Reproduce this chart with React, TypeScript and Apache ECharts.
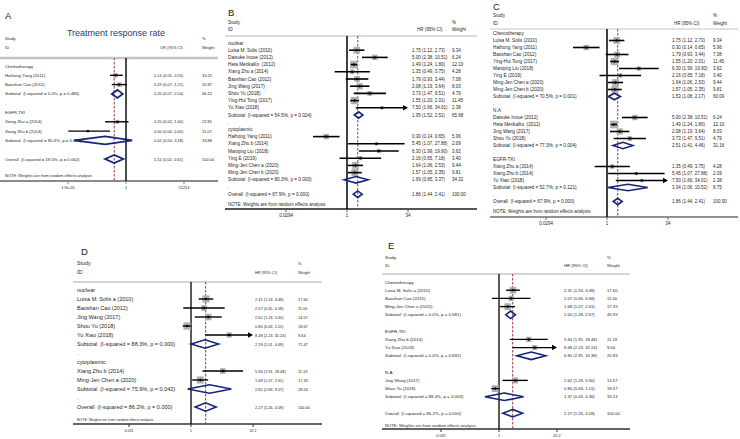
import React, { useEffect, useRef } from "react";
import * as echarts from "echarts";

const FONT = "'Liberation Sans', Arial, Helvetica, sans-serif";
const TEXT = "#262626";
const NAVY = "#16247a";
const BOX = "#b0b0b0";
const REF_RED = "#a8323a";

// ---------------- Panel A : Treatment response rate (OR) ----------------
const aLabels = [
  "Chemotherapy",
  "Haihong Yang (2011)",
  "Baoshan Cao (2012)",
  "Subtotal  (I-squared = 0.0%, p = 0.486)",
  ".",
  "EGFR-TKI",
  "Xiang Zhu a (2014)",
  "Xiang Zhu b (2014)",
  "Subtotal  (I-squared = 80.4%, p = 0.024)",
  ".",
  "Overall  (I-squared = 59.0%, p = 0.062)",
];
const aKinds = ["group", "study", "study", "subtotal", "blank", "group", "study", "study", "subtotal", "blank", "overall"];
const aOR = [null, 0.14, 0.29, 0.2, null, null, 0.2, 0.0008, 0.02, null, 0.11];
const aLow = [null, 0.05, 0.07, 0.07, null, null, 0.02, 0.00002, 0.00006, null, 0.02];
const aHigh = [null, 0.55, 1.21, 0.54, null, null, 1.6, 0.05, 3.18, null, 0.61];
const aWeight = [null, 33.25, 32.87, 66.12, null, null, 22.81, 11.07, 33.88, null, 100.0];
const aTickValues = [1 / 52214, 1, 52214];
const aTickLabels = ["1.9e-05", "1", "52214"];

// ---------------- Panel B : nuclear / cytoplasmic (HR) ----------------
const bLabels = [
  "nuclear",
  "Luisa M. Solis (2010)",
  "Daisuke Inoue (2012)",
  "Heta Merikallio  (2012)",
  "Xiang Zhu a (2014)",
  "Baoshan Cao (2012)",
  "Jing Wang (2017)",
  "Shou Yu (2018)",
  "Ying-Hui Tong (2017)",
  "Yu Xiao (2018)",
  "Subtotal  (I-squared = 54.5%, p = 0.024)",
  ".",
  "cytoplasmic",
  "Haihong Yang (2011)",
  "Xiang Zhu b (2014)",
  "Manqing Liu (2018)",
  "Ying E (2019)",
  "Ming-Jen Chen a (2020)",
  "Ming-Jen Chen b (2020)",
  "Subtotal  (I-squared = 80.3%, p = 0.000)",
  ".",
  "Overall  (I-squared = 67.9%, p = 0.000)",
];
const bKinds = [
  "group", "study", "study", "study", "study", "study", "study", "study", "study", "study", "subtotal", "blank",
  "group", "study", "study", "study", "study", "study", "study", "subtotal", "blank", "overall",
];
const bHR = [null, 1.75, 5.0, 1.49, 1.35, 1.79, 2.08, 3.73, 1.55, 7.5, 1.95, null, null, 0.3, 5.45, 6.3, 2.16, 1.64, 1.57, 1.69, null, 1.86];
const bLow = [null, 1.12, 2.38, 1.24, 0.49, 0.93, 1.19, 1.47, 1.2, 1.66, 1.52, null, null, 0.14, 1.07, 1.99, 0.65, 1.06, 1.05, 0.85, null, 1.44];
const bHigh = [null, 2.73, 10.51, 1.8, 3.75, 3.44, 3.64, 9.51, 2.01, 34.01, 2.51, null, null, 0.65, 27.88, 19.9, 7.18, 2.53, 2.35, 3.37, null, 2.41];
const bWeight = [null, 9.34, 6.24, 12.1, 4.28, 7.08, 8.03, 4.79, 11.45, 2.38, 65.68, null, null, 5.96, 2.09, 3.62, 3.4, 9.44, 9.81, 34.32, null, 100.0];
const bTickValues = [0.0294, 1, 34];
const bTickLabels = ["0.0294", "1", "34"];

// ---------------- Panel C : Chemotherapy / N.A / EGFR-TKI (HR) ----------------
const cLabels = [
  "Chemotherapy",
  "Luisa M. Solis (2010)",
  "Haihong Yang (2011)",
  "Baoshan Cao (2012)",
  "Ying-Hui Tong (2017)",
  "Manqing Liu (2018)",
  "Ying E (2019)",
  "Ming-Jen Chen a (2020)",
  "Ming-Jen Chen b (2020)",
  "Subtotal  (I-squared = 70.5%, p = 0.001)",
  ".",
  "N.A",
  "Daisuke Inoue (2012)",
  "Heta Merikallio  (2012)",
  "Jing Wang (2017)",
  "Shou Yu (2018)",
  "Subtotal  (I-squared = 77.3%, p = 0.004)",
  ".",
  "EGFR-TKI",
  "Xiang Zhu a (2014)",
  "Xiang Zhu b (2014)",
  "Yu Xiao (2018)",
  "Subtotal  (I-squared = 52.7%, p = 0.121)",
  ".",
  "Overall  (I-squared = 67.9%, p = 0.000)",
];
const cKinds = [
  "group", "study", "study", "study", "study", "study", "study", "study", "study", "subtotal", "blank",
  "group", "study", "study", "study", "study", "subtotal", "blank",
  "group", "study", "study", "study", "subtotal", "blank", "overall",
];
const cHR = [null, 1.75, 0.3, 1.79, 1.55, 6.3, 2.16, 1.64, 1.57, 1.53, null, null, 5.0, 1.49, 2.08, 3.73, 2.51, null, null, 1.35, 5.45, 7.5, 3.34, null, 1.86];
const cLow = [null, 1.12, 0.14, 0.93, 1.2, 1.99, 0.65, 1.06, 1.05, 1.08, null, null, 2.38, 1.24, 1.19, 1.47, 1.41, null, null, 0.49, 1.07, 1.66, 1.06, null, 1.44];
const cHigh = [null, 2.73, 0.65, 3.44, 2.01, 19.9, 7.18, 2.53, 2.35, 2.17, null, null, 10.51, 1.8, 3.64, 9.51, 4.46, null, null, 3.75, 27.88, 34.01, 10.52, null, 2.41];
const cWeight = [null, 9.34, 5.96, 7.08, 11.45, 3.62, 3.4, 9.44, 9.81, 60.09, null, null, 6.24, 12.1, 8.03, 4.79, 31.16, null, null, 4.28, 2.09, 2.38, 8.75, null, 100.0];
const cTickValues = [0.0294, 1, 34];
const cTickLabels = ["0.0294", "1", "34"];

// ---------------- Panel D : nuclear / cytoplasmic (HR) ----------------
const dLabels = [
  "nuclear",
  "Luisa M. Solis a (2010)",
  "Baoshan Cao (2012)",
  "Jing Wang (2017)",
  "Shou Yu (2018)",
  "Yu Xiao (2018)",
  "Subtotal  (I-squared = 88.3%, p = 0.000)",
  ".",
  "cytoplasmic",
  "Xiang Zhu b (2014)",
  "Ming-Jen Chen a (2020)",
  "Subtotal  (I-squared = 75.9%, p = 0.042)",
  ".",
  "Overall  (I-squared = 86.2%, p = 0.000)",
];
const dKinds = ["group", "study", "study", "study", "study", "study", "subtotal", "blank", "group", "study", "study", "subtotal", "blank", "overall"];
const dHR = [null, 2.31, 2.07, 2.62, 0.8, 8.48, 2.19, null, null, 5.94, 1.68, 2.82, null, 2.27];
const dLow = [null, 1.53, 0.65, 1.23, 0.63, 2.23, 1.01, null, null, 1.91, 1.07, 0.83, null, 1.26];
const dHigh = [null, 3.48, 6.58, 5.6, 1.01, 32.24, 4.69, null, null, 18.48, 2.61, 9.57, null, 4.09];
const dWeight = [null, 17.6, 11.0, 14.57, 18.67, 9.64, 71.47, null, null, 11.19, 17.33, 28.53, null, 100.0];
const dTickValues = [0.031, 1, 32.2];
const dTickLabels = ["0.031", "1", "32.2"];

// ---------------- Panel E : Chemotherapy / EGFR-TKI / N.A (HR) ----------------
const eLabels = [
  "Chemotherapy",
  "Luisa M. Solis a (2010)",
  "Baoshan Cao (2012)",
  "Ming-Jen Chen a (2020)",
  "Subtotal  (I-squared = 0.0%, p = 0.581)",
  ".",
  "EGFR-TKI",
  "Xiang Zhu b (2014)",
  "Yu Xiao (2018)",
  "Subtotal  (I-squared = 0.0%, p = 0.692)",
  ".",
  "N.A",
  "Jing Wang (2017)",
  "Shou Yu (2018)",
  "Subtotal  (I-squared = 88.4%, p = 0.003)",
  ".",
  "Overall  (I-squared = 86.2%, p = 0.000)",
];
const eKinds = [
  "group", "study", "study", "study", "subtotal", "blank",
  "group", "study", "study", "subtotal", "blank",
  "group", "study", "study", "subtotal", "blank", "overall",
];
const eHR = [null, 2.31, 2.07, 1.68, 2.0, null, null, 5.94, 8.48, 6.9, null, null, 2.62, 0.8, 1.37, null, 2.27];
const eLow = [null, 1.53, 0.65, 1.07, 1.49, null, null, 1.91, 2.23, 2.91, null, null, 1.23, 0.63, 0.43, null, 1.26];
const eHigh = [null, 3.48, 6.58, 2.61, 2.67, null, null, 18.48, 32.24, 16.38, null, null, 5.6, 1.01, 4.36, null, 4.09];
const eWeight = [null, 17.6, 11.0, 17.33, 45.93, null, null, 11.19, 9.64, 20.83, null, null, 14.57, 18.67, 33.24, null, 100.0];
const eTickValues = [0.031, 1, 32.2];
const eTickLabels = ["0.031", "1", "32.2"];

const NOTE = "NOTE: Weights are from random effects analysis";

type PanelData = {
  labels: string[];
  kinds: string[];
  est: (number | null)[];
  low: (number | null)[];
  high: (number | null)[];
  weight: (number | null)[];
  ticks: number[];
  tickLabels: string[];
  effHead: string;
};

const panels: PanelData[] = [
  { labels: aLabels, kinds: aKinds, est: aOR, low: aLow, high: aHigh, weight: aWeight, ticks: aTickValues, tickLabels: aTickLabels, effHead: "OR (95% CI)" },
  { labels: bLabels, kinds: bKinds, est: bHR, low: bLow, high: bHigh, weight: bWeight, ticks: bTickValues, tickLabels: bTickLabels, effHead: "HR (95% CI)" },
  { labels: cLabels, kinds: cKinds, est: cHR, low: cLow, high: cHigh, weight: cWeight, ticks: cTickValues, tickLabels: cTickLabels, effHead: "HR (95% CI)" },
  { labels: dLabels, kinds: dKinds, est: dHR, low: dLow, high: dHigh, weight: dWeight, ticks: dTickValues, tickLabels: dTickLabels, effHead: "HR (95% CI)" },
  { labels: eLabels, kinds: eKinds, est: eHR, low: eLow, high: eHigh, weight: eWeight, ticks: eTickValues, tickLabels: eTickLabels, effHead: "HR (95% CI)" },
];

// layout (pixels / styles only)
const layouts: any[] = [
  {
    letter: "A", letterX: 5, letterY: 15, title: "Treatment response rate", titleX: 116, titleY: 33,
    labelX: 5, effX: 154, effHeadX: 160, wX: 202,
    studyY: 38, idY: 47, lineY: 58, lineX1: 0, lineX2: 218, lineColor: "#c4c4c4", lineW: 2.5,
    row0: 66, pitch: 9.3, noteY: 175, axisY: 181, axisColor: "#8a8a8a", axisW: 2, tickLabelY: 187,
    xLeft: 68, xRight: 184, nameFont: 4.3, numFont: 4, headFont: 4.2, numHeadFont: 4, noteFont: 4, tickFont: 4,
    boxK: 0.8, diamondH: 8, ciW: 1.4, pointR: 1.4, diaW: 1.8, arrow: 4, nullW: 1.4,
  },
  {
    letter: "B", letterX: 228, letterY: 12,
    labelX: 228, effX: 412, effHeadX: 417, wX: 452,
    studyY: 22, idY: 29, lineY: 36, lineX1: 225, lineX2: 477, lineColor: "#b8b8b8", lineW: 1,
    row0: 43, pitch: 7.2, noteY: 204, axisY: 209, axisColor: "#555555", axisW: 1.8, tickLabelY: 215,
    xLeft: 286, xRight: 408, nameFont: 4.7, numFont: 4.5, headFont: 4.7, numHeadFont: 4.5, noteFont: 4.5, tickFont: 4.5,
    boxK: 2.2, diamondH: 6.5, ciW: 1.6, pointR: 1.5, diaW: 1.6, arrow: 5, nullW: 1.5,
  },
  {
    letter: "C", letterX: 493, letterY: 6,
    labelX: 493, effX: 672, effHeadX: 674, wX: 713,
    studyY: 15, idY: 23, lineY: 29, lineX1: 490, lineX2: 738, lineColor: "#c4c4c4", lineW: 1,
    row0: 33.5, pitch: 7.0, noteY: 211, axisY: 217, axisColor: "#6e6e6e", axisW: 1.6, tickLabelY: 223,
    xLeft: 546, xRight: 668, nameFont: 4.7, numFont: 4.5, headFont: 4.7, numHeadFont: 4.5, noteFont: 4.5, tickFont: 4.5,
    boxK: 2.2, diamondH: 6.5, ciW: 1.6, pointR: 1.5, diaW: 1.6, arrow: 5, nullW: 1.5,
  },
  {
    letter: "D", letterX: 81, letterY: 251,
    labelX: 77, effX: 255, effHeadX: 255, wX: 298,
    studyY: 263, idY: 272, lineY: 282, lineX1: 73, lineX2: 322, lineColor: "#a8a8a8", lineW: 1,
    row0: 290, pitch: 9.0, noteY: 420, axisY: 424, axisColor: "#333333", axisW: 1.4, tickLabelY: 431,
    xLeft: 129, xRight: 253, nameFont: 5.5, numFont: 3.9, headFont: 5.3, numHeadFont: 3.9, noteFont: 3.5, tickFont: 3.6,
    boxK: 1.7, diamondH: 8.5, ciW: 1.4, pointR: 1.5, diaW: 1.6, arrow: 5, nullW: 1.3,
  },
  {
    letter: "E", letterX: 388, letterY: 245,
    labelX: 385, effX: 564, effHeadX: 564, wX: 607,
    studyY: 257, idY: 265, lineY: 274, lineX1: 382, lineX2: 630, lineColor: "#a8a8a8", lineW: 1,
    row0: 282, pitch: 8.2, noteY: 425, axisY: 429, axisColor: "#333333", axisW: 1.4, tickLabelY: 436,
    xLeft: 441, xRight: 557, nameFont: 4.4, numFont: 4.2, headFont: 4.4, numHeadFont: 4.2, noteFont: 4.2, tickFont: 3.8,
    boxK: 1.6, diamondH: 7.5, ciW: 1.4, pointR: 1.5, diaW: 1.6, arrow: 5, nullW: 1.3,
  },
];

function fmt(v: number) {
  return v.toFixed(2);
}

function txt(x: number, y: number, text: string, size: number, align = "left", fill = TEXT) {
  return {
    type: "text",
    x,
    y,
    silent: true,
    style: { text, fontSize: size, fontFamily: FONT, fill, align, verticalAlign: "middle" },
  };
}

function buildPanel(p: PanelData, L: any, gi: number) {
  const n = p.labels.length;
  const xMin = Math.log10(p.ticks[0]);
  const xMax = Math.log10(p.ticks[p.ticks.length - 1]);
  const grid = { left: L.xLeft, width: L.xRight - L.xLeft, top: L.row0, height: (n - 1) * L.pitch, containLabel: false };
  const xAxis = { type: "value", gridIndex: gi, min: xMin, max: xMax, show: false };
  const yAxis = { type: "value", gridIndex: gi, min: 0, max: n - 1, inverse: true, show: false };
  const overall = p.est[n - 1] as number;

  const refSeries = {
    type: "custom",
    xAxisIndex: gi,
    yAxisIndex: gi,
    clip: false,
    silent: true,
    z: 1,
    data: [[0, 0], [Math.log10(overall), 0]],
    renderItem: (params: any, api: any) => {
      const x = api.coord([api.value(0), 0])[0];
      const isNull = params.dataIndex === 0;
      return {
        type: "line",
        shape: { x1: x, y1: L.lineY, x2: x, y2: L.axisY },
        style: isNull
          ? { stroke: "#000", lineWidth: L.nullW }
          : { stroke: REF_RED, lineWidth: 1, lineDash: [2.5, 1.5] },
      };
    },
  };

  const tickSeries = {
    type: "custom",
    xAxisIndex: gi,
    yAxisIndex: gi,
    clip: false,
    silent: true,
    data: p.ticks.map((t) => [Math.log10(t), 0]),
    renderItem: (params: any, api: any) => {
      const x = api.coord([api.value(0), 0])[0];
      return {
        type: "group",
        children: [
          { type: "line", shape: { x1: x, y1: L.axisY, x2: x, y2: L.axisY + 3 }, style: { stroke: L.axisColor, lineWidth: 1 } },
          txt(x, L.tickLabelY, p.tickLabels[params.dataIndex], L.tickFont, "center"),
        ],
      };
    },
  };

  const rowSeries = {
    type: "custom",
    xAxisIndex: gi,
    yAxisIndex: gi,
    clip: false,
    silent: true,
    z: 3,
    data: p.labels.map((_, i) => [0, i]),
    renderItem: (params: any, api: any) => {
      const i = params.dataIndex;
      const kind = p.kinds[i];
      const y = api.coord([0, i])[1];
      const ch: any[] = [];
      ch.push(txt(L.labelX, y, p.labels[i], L.nameFont));
      if (kind === "study" || kind === "subtotal" || kind === "overall") {
        const e = p.est[i] as number;
        const lo = p.low[i] as number;
        const hi = p.high[i] as number;
        const w = p.weight[i] as number;
        const le = Math.log10(e);
        const ll = Math.log10(lo);
        const lh = Math.log10(hi);
        const xe = api.coord([le, i])[0];
        const xl = api.coord([Math.max(ll, xMin), i])[0];
        const xh = api.coord([Math.min(lh, xMax), i])[0];
        if (kind === "study") {
          const s = L.boxK * Math.sqrt(w);
          ch.push({ type: "rect", shape: { x: xe - s / 2, y: y - s / 2, width: s, height: s }, style: { fill: BOX } });
          const cutR = lh > xMax;
          const cutL = ll < xMin;
          const a = L.arrow;
          ch.push({
            type: "line",
            shape: { x1: cutL ? xl + a : xl, y1: y, x2: cutR ? xh - a : xh, y2: y },
            style: { stroke: "#000", lineWidth: L.ciW },
          });
          if (cutR) {
            ch.push({ type: "polygon", shape: { points: [[xh, y], [xh - a, y - a * 0.55], [xh - a, y + a * 0.55]] }, style: { fill: "#000" } });
          }
          if (cutL) {
            ch.push({ type: "polygon", shape: { points: [[xl, y], [xl + a, y - a * 0.55], [xl + a, y + a * 0.55]] }, style: { fill: "#000" } });
          }
          const r = L.pointR;
          ch.push({ type: "polygon", shape: { points: [[xe - r, y], [xe, y - r], [xe + r, y], [xe, y + r]] }, style: { fill: "#000" } });
        } else {
          const h = L.diamondH / 2;
          ch.push({
            type: "polygon",
            shape: { points: [[xl, y], [xe, y - h], [xh, y], [xe, y + h]] },
            style: { fill: "rgba(255,255,255,0)", stroke: NAVY, lineWidth: L.diaW, lineJoin: "miter" },
          });
        }
        ch.push(txt(L.effX, y, `${fmt(e)} (${fmt(lo)}, ${fmt(hi)})`, L.numFont));
        ch.push(txt(L.wX, y, fmt(w), L.numFont));
      }
      return { type: "group", children: ch };
    },
  };

  const graphics: any[] = [];
  graphics.push(txt(L.letterX, L.letterY, L.letter, 9.5, "left", "#1a1a1a"));
  if (L.title) graphics.push(txt(L.titleX, L.titleY, L.title, 9, "center", "#1f3b73"));
  graphics.push(txt(L.labelX, L.studyY, "Study", L.headFont));
  graphics.push(txt(L.labelX, L.idY, "ID", L.headFont));
  graphics.push(txt(L.effHeadX, L.idY, p.effHead, L.numHeadFont));
  graphics.push(txt(L.wX, L.studyY, "%", L.numHeadFont));
  graphics.push(txt(L.wX, L.idY, "Weight", L.numHeadFont));
  graphics.push({ type: "line", silent: true, shape: { x1: L.lineX1, y1: L.lineY, x2: L.lineX2, y2: L.lineY }, style: { stroke: L.lineColor, lineWidth: L.lineW } });
  graphics.push({ type: "line", silent: true, shape: { x1: L.lineX1, y1: L.axisY, x2: L.lineX2, y2: L.axisY }, style: { stroke: L.axisColor, lineWidth: L.axisW } });
  graphics.push(txt(L.labelX, L.noteY, NOTE, L.noteFont));

  return { grid, xAxis, yAxis, series: [refSeries, tickSeries, rowSeries], graphics };
}

export default function App() {
  const ref = useRef<HTMLDivElement>(null);
  useEffect(() => {
    if (!ref.current) return;
    const chart = echarts.init(ref.current, undefined, { renderer: "svg" });
    const built = panels.map((p, i) => buildPanel(p, layouts[i], i));
    chart.setOption({
      animation: false,
      backgroundColor: "#ffffff",
      grid: built.map((b) => b.grid),
      xAxis: built.map((b) => b.xAxis),
      yAxis: built.map((b) => b.yAxis),
      series: built.flatMap((b) => b.series),
      graphic: { elements: built.flatMap((b) => b.graphics) },
    });
    return () => chart.dispose();
  }, []);
  return (
    <div
      ref={ref}
      style={{ position: "fixed", left: 0, top: 0, width: 740, height: 439, background: "#fff" }}
    />
  );
}
